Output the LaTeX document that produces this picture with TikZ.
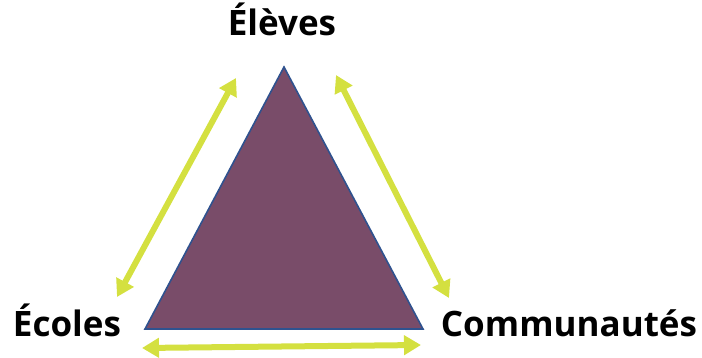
\documentclass[tikz,border=0pt]{standalone}
\usepackage{fontspec}
\setmainfont{Open Sans}
\usetikzlibrary{arrows.meta}
\definecolor{tri}{RGB}{121,76,105}
\definecolor{triedge}{RGB}{47,82,143}
\definecolor{arr}{RGB}{212,224,64}
\tikzset{
  lbl/.style={font=\fontsize{35}{38}\selectfont\bfseries, inner sep=0pt, anchor=base},
  link/.style={draw=arr, line width=6pt, {Triangle[length=17pt,width=19pt]}-{Triangle[length=17pt,width=19pt]}}
}
\begin{document}
\begin{tikzpicture}[x=1pt,y=-1pt]
\useasboundingbox (0,0) rectangle (702,358);
\coordinate (A) at (284,67);
\coordinate (B) at (145,329);
\coordinate (C) at (423,329);
\filldraw[fill=tri, draw=triedge, line width=1.6pt, line join=miter] (A) -- (B) -- (C) -- cycle;
\node[lbl] (el) at (282,36) {Élèves};
\node[lbl] (ec) at (67,336) {Écoles};
\node[lbl] (co) at (569,336) {Communautés};
\coordinate (l1) at (117,297);
\coordinate (l2) at (236,78);
\coordinate (r1) at (336,75);
\coordinate (r2) at (449,298);
\coordinate (b1) at (142,348);
\coordinate (b2) at (421,345);
\draw[link] (l1) -- (l2);
\draw[link] (r1) -- (r2);
\draw[link] (b1) -- (b2);
\end{tikzpicture}
\end{document}
